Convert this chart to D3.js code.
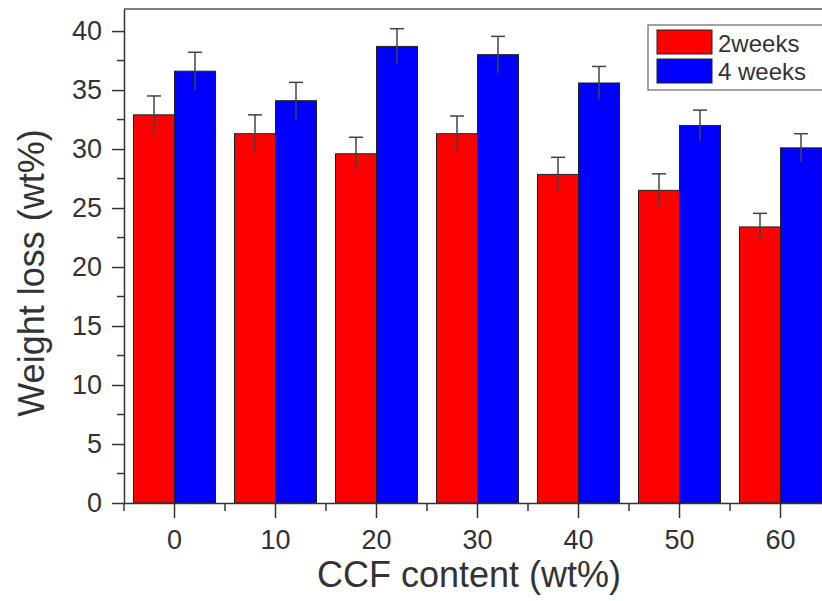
<!DOCTYPE html>
<html>
<head>
<meta charset="utf-8">
<script src="https://cdn.jsdelivr.net/npm/d3@7"></script>
<style>
  html, body { margin: 0; padding: 0; background: #fff; }
  svg { display: block; }
  text { font-family: "Liberation Sans", Arial, sans-serif; fill: #333; }
</style>
</head>
<body>
<svg id="chart" width="822" height="601"></svg>
<script>
const categories = ["0", "10", "20", "30", "40", "50", "60"];
const seriesNames = ["2weeks", "4 weeks"];
const weeks2 = [32.9, 31.3, 29.6, 31.3, 27.85, 26.5, 23.4];
const weeks4 = [36.6, 34.1, 38.7, 38.0, 35.6, 32.0, 30.1];
const err2 = [1.6, 1.6, 1.4, 1.5, 1.45, 1.4, 1.15];
const err4 = [1.6, 1.55, 1.5, 1.55, 1.4, 1.3, 1.2];
const yTicks = [0, 5, 10, 15, 20, 25, 30, 35, 40];
const colors = ["#ff0000", "#0000ff"];

const svg = d3.select("#chart");
const mLeft = 124, mRight = 831, mTop = 9, mBottom = 503;
const fontFam = "'Liberation Sans', Arial, sans-serif";

const x = d3.scaleBand().domain(categories).range([mLeft, mRight])
  .paddingInner(0.188).paddingOuter(0.094);
const xs = d3.scaleBand().domain(seriesNames).range([0, x.bandwidth()]);
const y = d3.scaleLinear().domain([0, 41.87]).range([mBottom, mTop]);

const data = categories.map((c, i) => ({
  cat: c,
  vals: [
    { s: seriesNames[0], v: weeks2[i], e: err2[i], c: colors[0] },
    { s: seriesNames[1], v: weeks4[i], e: err4[i], c: colors[1] }
  ]
}));

// frame (top line)
svg.append("line").attr("x1", mLeft).attr("x2", 830).attr("y1", mTop).attr("y2", mTop)
  .attr("stroke", "#555").attr("stroke-width", 1.5);

const groups = svg.append("g").selectAll("g").data(data).join("g")
  .attr("transform", d => `translate(${x(d.cat)},0)`);

groups.selectAll("rect").data(d => d.vals).join("rect")
  .attr("x", d => xs(d.s))
  .attr("y", d => y(d.v))
  .attr("width", xs.bandwidth())
  .attr("height", d => y(0) - y(d.v))
  .attr("fill", d => d.c)
  .attr("stroke", "#222")
  .attr("stroke-width", 1);

// error bars
const eb = groups.selectAll("g.err").data(d => d.vals).join("g").attr("class", "err");
eb.append("line")
  .attr("x1", d => xs(d.s) + xs.bandwidth() / 2)
  .attr("x2", d => xs(d.s) + xs.bandwidth() / 2)
  .attr("y1", d => y(d.v - d.e))
  .attr("y2", d => y(d.v + d.e))
  .attr("stroke", "#444").attr("stroke-width", 1.5);
eb.append("line")
  .attr("x1", d => xs(d.s) + xs.bandwidth() / 2 - 7)
  .attr("x2", d => xs(d.s) + xs.bandwidth() / 2 + 7)
  .attr("y1", d => y(d.v + d.e))
  .attr("y2", d => y(d.v + d.e))
  .attr("stroke", "#444").attr("stroke-width", 1.5);

// y axis
const yAxis = svg.append("g").attr("transform", `translate(${mLeft},0)`)
  .call(d3.axisLeft(y).tickValues(yTicks).tickSize(12).tickPadding(10).tickSizeOuter(0));
yAxis.select(".domain").attr("stroke", "#333").attr("stroke-width", 1.5);
yAxis.selectAll(".tick line").attr("stroke", "#333").attr("stroke-width", 1.5);
yAxis.selectAll(".tick text").attr("font-size", 27).attr("fill", "#333")
  .style("font-family", fontFam);
// y minor ticks
const yMinor = yTicks.slice(0, -1).map(t => t + 2.5);
svg.append("g").selectAll("line").data(yMinor).join("line")
  .attr("x1", mLeft - 7).attr("x2", mLeft)
  .attr("y1", d => y(d)).attr("y2", d => y(d))
  .attr("stroke", "#333").attr("stroke-width", 1.5);

// x axis
const xAxis = svg.append("g").attr("transform", `translate(0,${mBottom})`)
  .call(d3.axisBottom(x).tickSize(15).tickPadding(12).tickSizeOuter(0));
xAxis.select(".domain").attr("stroke", "#333").attr("stroke-width", 1.5);
xAxis.selectAll(".tick line").attr("stroke", "#333").attr("stroke-width", 1.5);
xAxis.selectAll(".tick text").attr("font-size", 27).attr("fill", "#333")
  .style("font-family", fontFam);
// x minor ticks between categories
const xMinor = categories.map(c => x(c) + x.bandwidth() / 2 - x.step() / 2);
svg.append("g").selectAll("line").data(xMinor).join("line")
  .attr("x1", d => d).attr("x2", d => d)
  .attr("y1", mBottom).attr("y2", mBottom + 8)
  .attr("stroke", "#333").attr("stroke-width", 1.5);

// axis titles
svg.append("text").attr("x", 469).attr("y", 587).attr("text-anchor", "middle")
  .attr("font-size", 36).text("CCF content (wt%)");
svg.append("text").attr("transform", "translate(44,273) rotate(-90)")
  .attr("text-anchor", "middle").attr("font-size", 36).text("Weight loss (wt%)");

// legend
const lg = svg.append("g");
lg.append("rect").attr("x", 648).attr("y", 25).attr("width", 190).attr("height", 65)
  .attr("fill", "#fff").attr("stroke", "#666").attr("stroke-width", 1.2);
seriesNames.forEach((s, i) => {
  lg.append("rect").attr("x", 657).attr("y", 30 + i * 29).attr("width", 55).attr("height", 24)
    .attr("fill", colors[i]).attr("stroke", "#222").attr("stroke-width", 1);
  lg.append("text").attr("x", 718).attr("y", 52 + i * 28).attr("font-size", 24).text(s);
});
</script>
</body>
</html>
